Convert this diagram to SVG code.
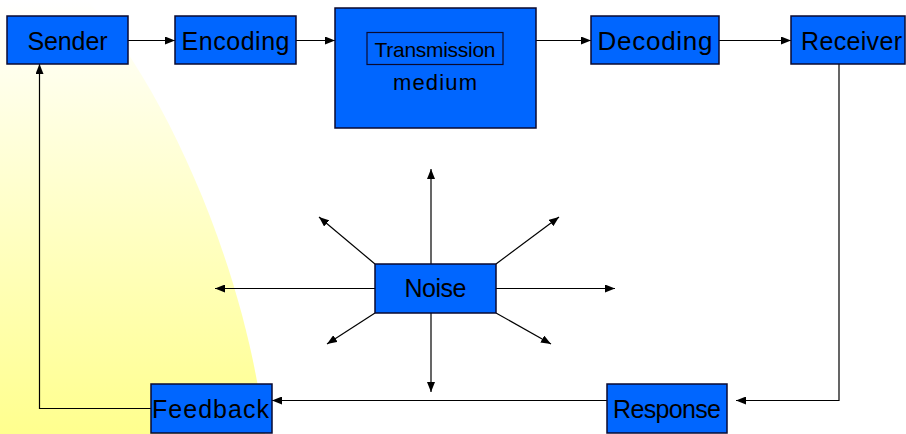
<svg xmlns="http://www.w3.org/2000/svg" width="906" height="434" viewBox="0 0 906 434">
  <defs>
    <linearGradient id="bg" x1="0" y1="0" x2="0" y2="1">
      <stop offset="0" stop-color="#FFFFFF"/>
      <stop offset="1" stop-color="#FFFF8E"/>
    </linearGradient>
    <marker id="ah" viewBox="0 0 10 8" refX="10" refY="4" markerWidth="10" markerHeight="8" orient="auto" markerUnits="userSpaceOnUse">
      <path d="M0,0 L10,4 L0,8 z" fill="#000"/>
    </marker>
    <style>
      .box { fill: #0066FF; stroke: #0A0A30; stroke-width: 1.5; }
      .inner { fill: none; stroke: #0A0A30; stroke-width: 1.2; }
      .lbl { font-family: "Liberation Sans", Arial, sans-serif; font-size: 25px; fill: #000; text-anchor: middle; }
      .sm { font-size: 21px; }
      .md { font-size: 22px; }
      .lg { font-size: 26px; }
      .con { fill: none; stroke: #000; stroke-width: 1.2; }
      .arr { marker-end: url(#ah); }
    </style>
  </defs>
  <rect width="906" height="434" fill="#FFFFFF"/>
  <path d="M0,0 L87,0 C160,80 245,260 265,434 L0,434 Z" fill="url(#bg)"/>

  <g id="connectors">
    <path class="con arr" d="M128,40.5 H175"/>
    <path class="con arr" d="M296,40.5 H335"/>
    <path class="con arr" d="M536,40.5 H591"/>
    <path class="con arr" d="M719,40.5 H791"/>
    <path class="con arr" d="M839,64 V400.5 H736"/>
    <path class="con arr" d="M607,400.5 H272"/>
    <path class="con arr" d="M151,408.5 H39.5 V64"/>
    <path class="con arr" d="M431,264 V169"/>
    <path class="con arr" d="M431,313 V392"/>
    <path class="con arr" d="M375,288.5 H215"/>
    <path class="con arr" d="M496,288.5 H615"/>
    <path class="con arr" d="M375,264 L319,217"/>
    <path class="con arr" d="M496,264 L559,217"/>
    <path class="con arr" d="M375,313 L327,344"/>
    <path class="con arr" d="M496,313 L551,344"/>
  </g>

  <g id="sender">
    <rect class="box" x="7" y="16" width="121" height="48"/>
    <text class="lbl" x="67.5" y="50" textLength="80">Sender</text>
  </g>
  <g id="encoding">
    <rect class="box" x="175" y="16" width="121" height="48"/>
    <text class="lbl" x="235.5" y="50" textLength="108">Encoding</text>
  </g>
  <g id="transmission">
    <rect class="box" x="335" y="8" width="201" height="120"/>
    <rect class="inner" x="367" y="32.5" width="136" height="32"/>
    <text class="lbl sm" x="435" y="57" textLength="121">Transmission</text>
    <text class="lbl md" x="435" y="90" textLength="84">medium</text>
  </g>
  <g id="decoding">
    <rect class="box" x="591" y="16" width="128" height="48"/>
    <text class="lbl lg" x="655" y="50" textLength="115">Decoding</text>
  </g>
  <g id="receiver">
    <rect class="box" x="791" y="16" width="114" height="48"/>
    <text class="lbl" x="851.5" y="50" textLength="101">Receiver</text>
  </g>
  <g id="noise">
    <rect class="box" x="375" y="264" width="121" height="49"/>
    <text class="lbl" x="435.5" y="297" textLength="62">Noise</text>
  </g>
  <g id="response">
    <rect class="box" x="607" y="384" width="120" height="49"/>
    <text class="lbl" x="667" y="418" textLength="108">Response</text>
  </g>
  <g id="feedback">
    <rect class="box" x="151" y="384" width="121" height="49"/>
    <text class="lbl" x="210.5" y="418" textLength="117">Feedback</text>
  </g>
</svg>
